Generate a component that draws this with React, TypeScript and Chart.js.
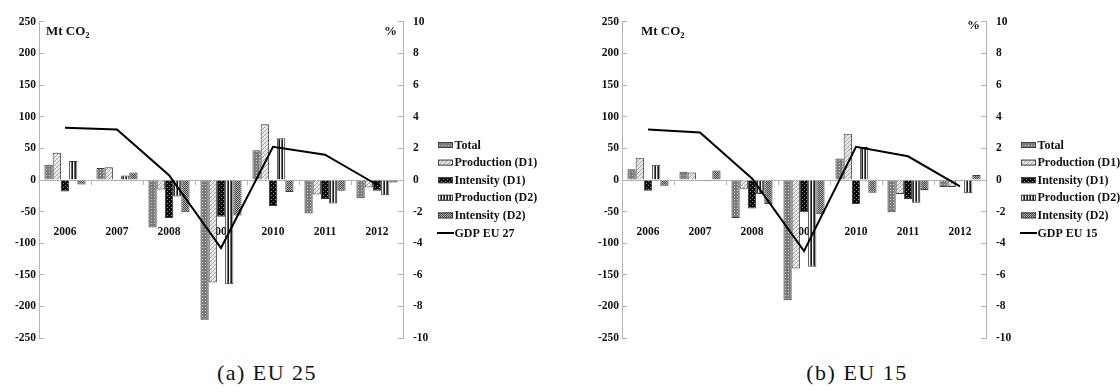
import { useEffect, useRef } from "react";
import { Chart, registerables } from "chart.js";

Chart.register(...registerables);

// Categories and series names
const years = ["2006", "2007", "2008", "2009", "2010", "2011", "2012"];
const seriesNames = ["Total", "Production (D1)", "Intensity (D1)", "Production (D2)", "Intensity (D2)"];

// EU 25 decomposition (Mt CO2) and EU 27 GDP growth (%)
const eu25Total = [24, 19, -75, -221, 47, -53, -29];
const eu25ProdD1 = [43, 20, -15, -162, 88, -23, -12];
const eu25IntD1 = [-18, -1, -60, -58, -41, -30, -17];
const eu25ProdD2 = [30, 7, -26, -165, 66, -37, -24];
const eu25IntD2 = [-7, 12, -51, -56, -19, -17, -4];
const gdpEu27 = [3.3, 3.2, 0.3, -4.3, 2.1, 1.6, -0.3];

// EU 15 decomposition (Mt CO2) and EU 15 GDP growth (%)
const eu15Total = [17, 13, -60, -190, 34, -51, -11];
const eu15ProdD1 = [35, 12, -14, -140, 73, -22, -11];
const eu15IntD1 = [-17, -1, -45, -51, -38, -30, -1];
const eu15ProdD2 = [24, -2, -22, -137, 52, -36, -21];
const eu15IntD2 = [-9, 15, -38, -54, -20, -16, 8];
const gdpEu15 = [3.2, 3.0, 0.1, -4.5, 2.1, 1.5, -0.4];

// Axis tick values
const mtTicks = [-250, -200, -150, -100, -50, 0, 50, 100, 150, 200, 250];
const pctTicks = [-10, -8, -6, -4, -2, 0, 2, 4, 6, 8, 10];

const FONT = '"Liberation Serif", "Times New Roman", serif';
const AXIS_GREY = "#b4b4b4";

function tile(w: number, h: number, draw: (c: CanvasRenderingContext2D) => void): CanvasPattern {
  const cv = document.createElement("canvas");
  cv.width = w;
  cv.height = h;
  const c = cv.getContext("2d")!;
  draw(c);
  return c.createPattern(cv, "repeat")!;
}

function makePatterns(): CanvasPattern[] {
  const total = tile(3, 3, (c) => {
    c.fillStyle = "#7c7c7c";
    c.fillRect(0, 0, 3, 3);
    c.fillStyle = "#c8c8c8";
    c.fillRect(1, 1, 1, 1);
  });
  const prodD1 = tile(4, 4, (c) => {
    c.fillStyle = "#e4e4e4";
    c.fillRect(0, 0, 4, 4);
    c.fillStyle = "#a4a4a4";
    for (let i = 0; i < 4; i++) c.fillRect(i, 3 - i, 1, 1);
    c.fillStyle = "#ffffff";
    c.fillRect(0, 0, 1, 1);
    c.fillRect(2, 2, 1, 1);
  });
  const intD1 = tile(4, 4, (c) => {
    c.fillStyle = "#0c0c0c";
    c.fillRect(0, 0, 4, 4);
    c.fillStyle = "#8a8a8a";
    c.fillRect(1, 1, 1, 1);
    c.fillRect(3, 3, 1, 1);
  });
  const prodD2 = tile(3, 1, (c) => {
    c.fillStyle = "#1a1a1a";
    c.fillRect(0, 0, 1, 1);
    c.fillStyle = "#f4f4f4";
    c.fillRect(1, 0, 1, 1);
    c.fillStyle = "#6a6a6a";
    c.fillRect(2, 0, 1, 1);
  });
  const intD2 = tile(2, 2, (c) => {
    c.fillStyle = "#b4b4b4";
    c.fillRect(0, 0, 2, 2);
    c.fillStyle = "#454545";
    c.fillRect(0, 0, 1, 1);
    c.fillRect(1, 1, 1, 1);
  });
  return [total, prodD1, intD1, prodD2, intD2];
}

// Draws the unit labels and the legend to the right of the plot
const decorPlugin = {
  id: "decor",
  afterDraw(chart: any, _args: any, opts: any) {
    const { ctx, chartArea } = chart;
    ctx.save();
    ctx.fillStyle = "#111";
    ctx.textBaseline = "middle";
    ctx.textAlign = "left";
    ctx.font = `bold 13px ${FONT}`;
    ctx.fillText("Mt CO", opts.unitX, 32);
    const w = ctx.measureText("Mt CO").width;
    ctx.font = `bold 8.5px ${FONT}`;
    ctx.fillText("2", opts.unitX + w, 35.5);
    ctx.font = `bold 13px ${FONT}`;
    ctx.textAlign = "right";
    ctx.fillText("%", chartArea.right - 6, opts.pctY);

    const x0 = chartArea.right + 35;
    const y0 = 145;
    const step = 17.6;
    ctx.textAlign = "left";
    ctx.font = `bold 12px ${FONT}`;
    chart.data.datasets.forEach((ds: any, i: number) => {
      const y = y0 + i * step;
      if (ds.type === "line") {
        ctx.strokeStyle = "#000";
        ctx.lineWidth = 2;
        ctx.beginPath();
        ctx.moveTo(x0 - 1, y);
        ctx.lineTo(x0 + 16, y);
        ctx.stroke();
      } else {
        ctx.fillStyle = ds.backgroundColor;
        ctx.fillRect(x0, y - 3, 15, 6);
        ctx.strokeStyle = "#404040";
        ctx.lineWidth = 1;
        ctx.strokeRect(x0 + 0.5, y - 2.5, 14, 5);
      }
      ctx.fillStyle = "#111";
      ctx.fillText(ds.label, x0 + 16.5, y + 0.5);
    });
    ctx.restore();
  },
};

type PanelProps = {
  total: number[];
  prodD1: number[];
  intD1: number[];
  prodD2: number[];
  intD2: number[];
  gdp: number[];
  gdpLabel: string;
  unitX: number;
  pctY: number;
};

function Panel(p: PanelProps) {
  const ref = useRef<HTMLCanvasElement>(null);
  useEffect(() => {
    const patterns = makePatterns();
    const bars = [p.total, p.prodD1, p.intD1, p.prodD2, p.intD2];
    const tickFont = { family: FONT, size: 11.5, weight: "bold" as const };
    const chart = new Chart(ref.current!, {
      type: "bar",
      data: {
        labels: years,
        datasets: [
          ...bars.map((data, i) => ({
            type: "bar" as const,
            label: seriesNames[i],
            data,
            backgroundColor: patterns[i],
            borderColor: "#3c3c3c",
            borderWidth: 1,
            yAxisID: "y",
            order: 2,
            categoryPercentage: 0.79,
            barPercentage: 1,
          })),
          {
            type: "line" as const,
            label: p.gdpLabel,
            data: p.gdp,
            yAxisID: "y1",
            borderColor: "#000",
            borderWidth: 2,
            pointRadius: 0,
            tension: 0,
            fill: false,
            order: 1,
          } as any,
        ],
      },
      options: {
        responsive: false,
        animation: false,
        layout: { padding: { left: 0, top: 21, right: 150, bottom: 12 } },
        plugins: {
          legend: { display: false },
          tooltip: { enabled: false },
          decor: { unitX: p.unitX, pctY: p.pctY },
        } as any,
        scales: {
          x: {
            position: { y: 0 } as any,
            offset: true,
            grid: {
              display: true,
              drawOnChartArea: false,
              drawTicks: true,
              tickLength: 4,
              offset: true,
              color: AXIS_GREY,
            },
            border: { display: true, color: AXIS_GREY, width: 1 },
            ticks: { padding: 41, font: tickFont, color: "#111", maxRotation: 0, autoSkip: false },
          },
          y: {
            position: "left",
            min: -250,
            max: 250,
            afterBuildTicks: (s: any) => {
              s.ticks = mtTicks.map((value) => ({ value }));
            },
            afterFit: (s: any) => {
              s.width = 39;
            },
            grid: { drawOnChartArea: false, tickLength: -5, color: AXIS_GREY },
            border: { color: AXIS_GREY },
            ticks: { padding: 8, font: tickFont, color: "#111" },
          },
          y1: {
            position: "right",
            min: -10,
            max: 10,
            afterBuildTicks: (s: any) => {
              s.ticks = pctTicks.map((value) => ({ value }));
            },
            afterFit: (s: any) => {
              s.width = 30;
            },
            grid: { drawOnChartArea: false, tickLength: -5, color: AXIS_GREY },
            border: { color: AXIS_GREY },
            ticks: { padding: 15, font: tickFont, color: "#111" },
          },
        },
      },
      plugins: [decorPlugin],
    });
    return () => chart.destroy();
  }, []);
  return <canvas ref={ref} width={583} height={360} style={{ display: "block" }} />;
}

const captionStyle: React.CSSProperties = {
  position: "absolute",
  top: 360,
  fontFamily: FONT,
  fontSize: 22,
  letterSpacing: 1.5,
  color: "#111",
  transform: "translateX(-50%)",
  whiteSpace: "nowrap",
};

export default function App() {
  return (
    <div style={{ position: "absolute", left: 0, top: 0, width: 1120, height: 392, background: "#fff", overflow: "hidden" }}>
      <div style={{ position: "absolute", left: 0, top: 0, width: 583, height: 360, overflow: "hidden" }}>
        <Panel
          total={eu25Total}
          prodD1={eu25ProdD1}
          intD1={eu25IntD1}
          prodD2={eu25ProdD2}
          intD2={eu25IntD2}
          gdp={gdpEu27}
          gdpLabel="GDP EU 27"
          unitX={46}
          pctY={32}
        />
      </div>
      <div style={{ position: "absolute", left: 583, top: 0, width: 537, height: 360, overflow: "hidden" }}>
        <Panel
          total={eu15Total}
          prodD1={eu15ProdD1}
          intD1={eu15IntD1}
          prodD2={eu15ProdD2}
          intD2={eu15IntD2}
          gdp={gdpEu15}
          gdpLabel="GDP EU 15"
          unitX={58}
          pctY={26}
        />
      </div>
      <div style={{ ...captionStyle, left: 267 }}>(a) EU 25</div>
      <div style={{ ...captionStyle, left: 857 }}>(b) EU 15</div>
    </div>
  );
}
